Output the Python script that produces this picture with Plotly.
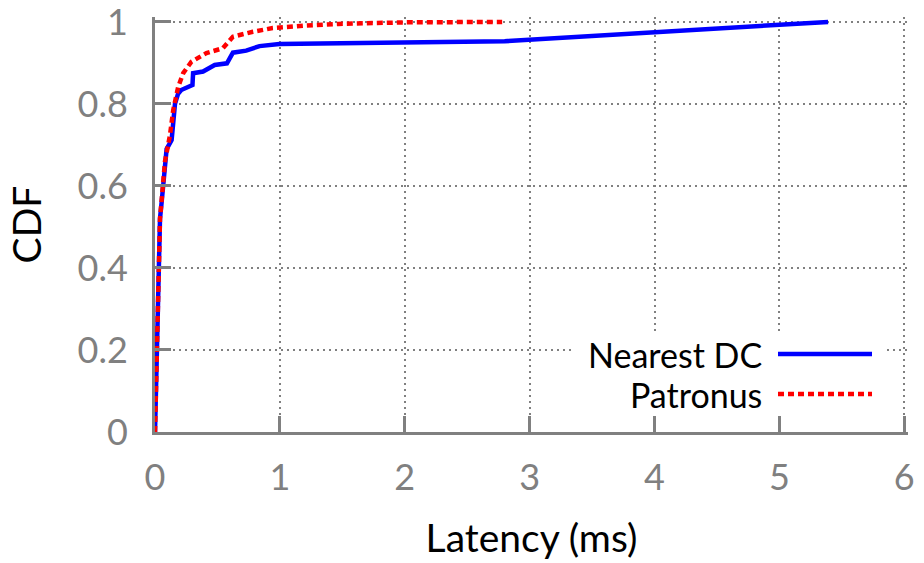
import plotly.graph_objects as go

# Data (latency in ms, CDF)
nearest_x = [0, 0.013, 0.026, 0.04, 0.053, 0.08, 0.093, 0.133, 0.145, 0.16, 0.185, 0.21,
             0.30, 0.305, 0.385, 0.478, 0.576, 0.624, 0.73, 0.837, 0.996, 2.8, 5.39]
nearest_y = [0, 0.2, 0.40, 0.52, 0.56, 0.66, 0.69, 0.712, 0.76, 0.80, 0.825, 0.834,
             0.846, 0.875, 0.879, 0.895, 0.899, 0.925, 0.93, 0.941, 0.946, 0.953, 1.0]

patronus_x = [0, 0.013, 0.026, 0.04, 0.053, 0.08, 0.12, 0.146, 0.186, 0.226, 0.292, 0.412,
              0.544, 0.624, 0.783, 0.943, 1.21, 1.47, 2.0, 2.78]
patronus_y = [0, 0.2, 0.41, 0.52, 0.565, 0.66, 0.724, 0.785, 0.842, 0.875, 0.903, 0.924,
              0.936, 0.964, 0.976, 0.985, 0.991, 0.995, 0.999, 1.0]

x_ticks = [0, 1, 2, 3, 4, 5, 6]
y_ticks = [0, 0.2, 0.4, 0.6, 0.8, 1]
y_tick_text = ["0", "0.2", "0.4", "0.6", "0.8", "1"]
series_names = ["Nearest DC", "Patronus"]

BLUE = "#0000ff"
RED = "#ff0000"
GREY = "#808080"
FONT = "Lato"
RED_DASH = "6px,4px"

fig = go.Figure()
fig.add_trace(go.Scatter(x=nearest_x, y=nearest_y, mode="lines", name=series_names[0],
                         line=dict(color=BLUE, width=4.5), showlegend=False))
fig.add_trace(go.Scatter(x=patronus_x, y=patronus_y, mode="lines", name=series_names[1],
                         line=dict(color=RED, width=4.5, dash=RED_DASH), showlegend=False))

# layout geometry (pixels)
W, H = 924, 563
ML, MR, MT, MB = 155, 16, 17, 131
pw = W - ML - MR
ph = H - MT - MB

def px(xp):
    return (xp - ML) / pw

def py(yp):
    return (H - MB - yp) / ph

shapes = [
    dict(type="rect", xref="paper", yref="paper", x0=px(575), x1=px(885), y0=py(416), y1=py(332),
         fillcolor="white", line=dict(width=0), layer="above"),
    dict(type="line", xref="paper", yref="paper", x0=px(778), x1=px(872), y0=py(354), y1=py(354),
         line=dict(color=BLUE, width=4.5), layer="above"),
    dict(type="line", xref="paper", yref="paper", x0=px(778), x1=px(872), y0=py(394), y1=py(394),
         line=dict(color=RED, width=4.5, dash=RED_DASH), layer="above"),
]
annotations = [
    dict(xref="paper", yref="paper", x=px(764), y=py(354), text=series_names[0], showarrow=False,
         xanchor="right", yanchor="middle", font=dict(family=FONT, size=34, color="black")),
    dict(xref="paper", yref="paper", x=px(764), y=py(394), text=series_names[1], showarrow=False,
         xanchor="right", yanchor="middle", font=dict(family=FONT, size=34, color="black")),
]

axis_common = dict(
    showline=True, linecolor=GREY, linewidth=3,
    ticks="inside", ticklen=16, tickwidth=3, tickcolor=GREY,
    showgrid=True, gridcolor=GREY, gridwidth=2, griddash="2px,4px",
    zeroline=False, ticklabeloverflow="allow", automargin=False,
    tickfont=dict(family=FONT, size=36, color=GREY),
)

fig.update_layout(
    width=W, height=H,
    margin=dict(l=ML, r=MR, t=MT, b=MB),
    paper_bgcolor="white", plot_bgcolor="white",
    xaxis=dict(range=[0, 6.03], tickvals=x_ticks, ticktext=[str(v) for v in x_ticks],
               ticklabelstandoff=12,
               title=dict(text="Latency (ms)", font=dict(family=FONT, size=39, color="black"),
                          standoff=28),
               **axis_common),
    yaxis=dict(range=[0, 1.012], tickvals=y_ticks, ticktext=y_tick_text,
               ticklabelstandoff=17,
               title=dict(text="CDF", font=dict(family=FONT, size=39, color="black"),
                          standoff=24),
               **axis_common),
    shapes=shapes,
    annotations=annotations,
    showlegend=False,
)

fig.write_html("out.html")
